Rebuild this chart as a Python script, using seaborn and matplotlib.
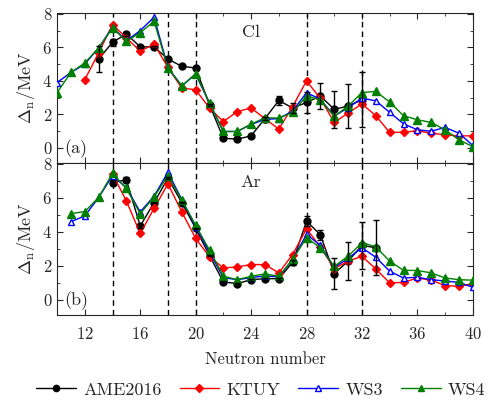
import numpy as np
import pandas as pd
import seaborn as sns
import matplotlib.pyplot as plt
from matplotlib.ticker import MultipleLocator
from matplotlib.lines import Line2D

# Cl chain
cl_ame_n = list(range(13, 33))
cl_ame = [5.3, 6.3, 6.8, 6.03, 6.03, 5.3, 4.87, 4.77, 2.57, 0.58, 0.52, 0.72,
          1.75, 2.83, 2.38, 2.71, 3.1, 2.3, 2.5, 2.87]
cl_ame_err = [0.8, 0.2, 0.12, 0.05, 0.05, 0.05, 0.05, 0.05, 0.08, 0.05, 0.05, 0.05,
              0.08, 0.25, 0.3, 0.6, 0.8, 1.1, 1.3, 1.65]
cl_ktuy_n = list(range(12, 41))
cl_ktuy = [4.07, 5.67, 7.36, 6.57, 5.77, 6.2, 4.8, 3.57, 3.47, 2.38, 1.57, 2.17,
           2.38, 1.75, 1.12, 2.47, 4.0, 2.95, 1.52, 2.08, 2.63, 1.92, 0.92, 0.94,
           1.02, 0.88, 0.78, 0.72, 0.72]
cl_ws_n = list(range(10, 41))
cl_ws3 = [3.9, 4.5, 5.0, 5.97, 7.2, 6.4, 7.0, 7.8, 4.8, 3.7, 4.4, 2.68, 0.98,
          0.98, 1.4, 1.7, 1.75, 2.2, 3.3, 2.9, 1.9, 2.4, 2.97, 2.81, 2.12, 1.44,
          1.08, 1.0, 1.22, 0.88, 0.15]
cl_ws4 = [3.3, 4.5, 5.07, 5.97, 7.16, 6.37, 6.87, 7.56, 4.75, 3.7, 4.43, 2.68,
          0.98, 0.98, 1.42, 1.8, 1.78, 2.12, 3.1, 2.87, 1.88, 2.5, 3.3, 3.37,
          2.74, 1.92, 1.68, 1.52, 1.08, 0.48, 0.08]

# Ar chain
ar_ame_n = list(range(14, 34))
ar_ame = [6.9, 7.06, 4.34, 5.72, 7.15, 5.72, 4.2, 2.6, 1.05, 0.95, 1.18, 1.24,
          1.24, 2.2, 4.63, 3.82, 1.54, 2.27, 3.2, 3.06]
ar_ame_err = [0.15, 0.15, 0.1, 0.05, 0.05, 0.05, 0.05, 0.05, 0.05, 0.05, 0.05,
              0.05, 0.05, 0.15, 0.3, 0.3, 0.9, 1.1, 1.4, 1.63]
ar_ktuy_n = list(range(14, 41))
ar_ktuy = [7.4, 5.82, 3.9, 5.38, 6.82, 5.17, 3.61, 2.53, 1.87, 1.93, 2.07, 2.07,
           1.58, 2.66, 4.18, 3.1, 1.83, 2.27, 2.56, 1.81, 0.99, 1.02, 1.28, 1.15,
           0.83, 0.79, 0.95]
ar_ws_n = list(range(11, 41))
ar_ws3 = [4.6, 4.93, 6.02, 7.3, 6.6, 5.17, 6.1, 7.5, 5.9, 4.3, 2.8, 1.3, 1.18,
          1.3, 1.4, 1.35, 2.37, 3.85, 3.2, 1.9, 2.43, 3.06, 2.5, 1.68, 1.28,
          1.32, 1.18, 1.1, 1.02, 0.73]
ar_ws4 = [5.07, 5.19, 6.02, 7.44, 6.55, 5.07, 6.05, 7.3, 5.88, 4.38, 2.92, 1.38,
          1.18, 1.38, 1.52, 1.38, 2.37, 3.65, 3.06, 1.97, 2.56, 3.36, 3.12,
          2.27, 1.73, 1.72, 1.58, 1.28, 1.18, 1.15]

magic_n = [14, 18, 20, 28, 32]

sns.set_style('ticks')
plt.rcParams['font.family'] = ['cmr10', 'DejaVu Serif']
plt.rcParams['mathtext.fontset'] = 'cm'
plt.rcParams['axes.formatter.use_mathtext'] = True
plt.rcParams['xtick.direction'] = 'in'
plt.rcParams['ytick.direction'] = 'in'

fig = plt.figure(figsize=(4.92, 4.0), dpi=100)
ax1 = fig.add_axes([0.116, 0.5925, 0.845, 0.375])
ax2 = fig.add_axes([0.116, 0.2125, 0.845, 0.38], sharex=ax1)

styles = {
    'AME2016': dict(color='black', marker='o', markersize=5, mfc='black'),
    'KTUY': dict(color='red', marker='D', markersize=4.5, mfc='red'),
    'WS3': dict(color='blue', marker='^', markersize=5, mfc='white'),
    'WS4': dict(color='green', marker='^', markersize=5.5, mfc='green'),
}


def draw_panel(ax, ame_n, ame, ame_err, ktuy_n, ktuy, ws_n, ws3, ws4, name, tag):
    for x in magic_n:
        ax.axvline(x, color='black', ls=(0, (4, 3)), lw=1, zorder=1)
    series = [('AME2016', ame_n, ame), ('KTUY', ktuy_n, ktuy),
              ('WS3', ws_n, ws3), ('WS4', ws_n, ws4)]
    for label, xs, ys in series:
        st = styles[label]
        df = pd.DataFrame({'N': xs, 'val': ys})
        sns.lineplot(data=df, x='N', y='val', ax=ax, color=st['color'],
                     marker=st['marker'], markersize=st['markersize'],
                     markerfacecolor=st['mfc'], markeredgecolor=st['color'],
                     markeredgewidth=1, lw=1, legend=False, zorder=3)
    ax.errorbar(ame_n, ame, yerr=ame_err, fmt='none', ecolor='black',
                elinewidth=1, capsize=2.5, capthick=1, zorder=4)
    ax.set_xlim(10, 40)
    ax.set_ylim(-0.9, 8.05)
    ax.xaxis.set_major_locator(MultipleLocator(4))
    ax.xaxis.set_minor_locator(MultipleLocator(2))
    ax.yaxis.set_major_locator(MultipleLocator(2))
    ax.yaxis.set_minor_locator(MultipleLocator(1))
    ax.tick_params(which='both', top=True, right=True, labelsize=12)
    ax.tick_params(which='major', length=4)
    ax.tick_params(which='minor', length=2.5)
    ax.tick_params(axis='x', pad=8)
    ax.set_ylabel(r'$\Delta_{\rm n}$/MeV', fontsize=13)
    ax.set_xlabel('')
    ax.text(24, 6.9, name, fontsize=13, ha='center', va='center')
    ax.text(10.55, -0.05, tag, fontsize=13, ha='left', va='center')


draw_panel(ax1, cl_ame_n, cl_ame, cl_ame_err, cl_ktuy_n, cl_ktuy,
           cl_ws_n, cl_ws3, cl_ws4, 'Cl', '(a)')
draw_panel(ax2, ar_ame_n, ar_ame, ar_ame_err, ar_ktuy_n, ar_ktuy,
           ar_ws_n, ar_ws3, ar_ws4, 'Ar', '(b)')
ax1.tick_params(labelbottom=False)
ax2.set_xlabel('Neutron number', fontsize=12, labelpad=7)

handles = [Line2D([], [], color=st['color'], marker=st['marker'],
                  markersize=st['markersize'] - 0.5, markerfacecolor=st['mfc'],
                  lw=1) for st in styles.values()]
fig.legend(handles, list(styles.keys()), loc='lower center', ncol=4,
           frameon=False, fontsize=13, bbox_to_anchor=(0.53, -0.035),
           handlelength=2.2, handletextpad=0.4, columnspacing=1.0)

fig.savefig('out.png', dpi=100)
